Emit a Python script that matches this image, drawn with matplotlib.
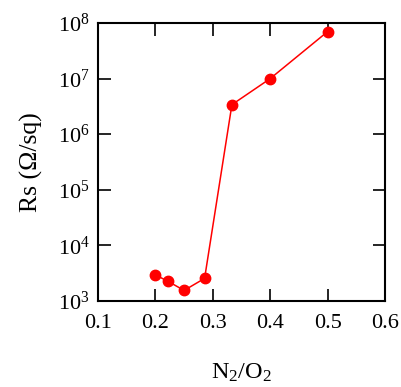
import matplotlib
matplotlib.use("Agg")
import matplotlib.pyplot as plt
from matplotlib.ticker import LogLocator, NullLocator, FixedLocator

plt.rcParams['font.family'] = ['Liberation Serif', 'DejaVu Serif']
plt.rcParams['mathtext.fontset'] = 'custom'
plt.rcParams['mathtext.rm'] = 'Liberation Serif'
plt.rcParams['mathtext.it'] = 'Liberation Serif:italic'

ratio = [0.2, 0.2222, 0.25, 0.2857, 0.3333, 0.4, 0.5]
rs = [2950, 2250, 1550, 2550, 3.4e6, 1.0e7, 7.0e7]
xticks = [0.1, 0.2, 0.3, 0.4, 0.5, 0.6]

fig = plt.figure(figsize=(4.01, 3.87), dpi=100)
ax = fig.add_axes([98/401, 1-301/387, (385-98)/401, (301-23)/387])
ax.plot(ratio, rs, color='#ff0000', lw=1.1, marker='o', ms=7.5)
ax.set_yscale('log')
ax.set_xlim(0.1, 0.6)
ax.set_ylim(1e3, 1e8)
ax.xaxis.set_major_locator(FixedLocator(xticks))
ax.set_xticklabels([f"{t:.1f}" for t in xticks])
ax.yaxis.set_major_locator(LogLocator(base=10, numticks=10))
ax.yaxis.set_minor_locator(NullLocator())
ax.tick_params(direction='in', length=9, width=1.2, top=True, right=True,
               labelsize=16)
ax.tick_params(axis='x', pad=9)
ax.tick_params(axis='y', pad=6)
for s in ax.spines.values():
    s.set_linewidth(1.5)
ax.set_ylabel('Rs (\u03a9/sq)', fontsize=18.5)
ax.set_xlabel('N$_2$/O$_2$', fontsize=17.5)
ax.yaxis.set_label_coords(-0.193, 0.5)
ax.xaxis.set_label_coords(0.5, -0.218)
fig.savefig('out.png', dpi=100)
